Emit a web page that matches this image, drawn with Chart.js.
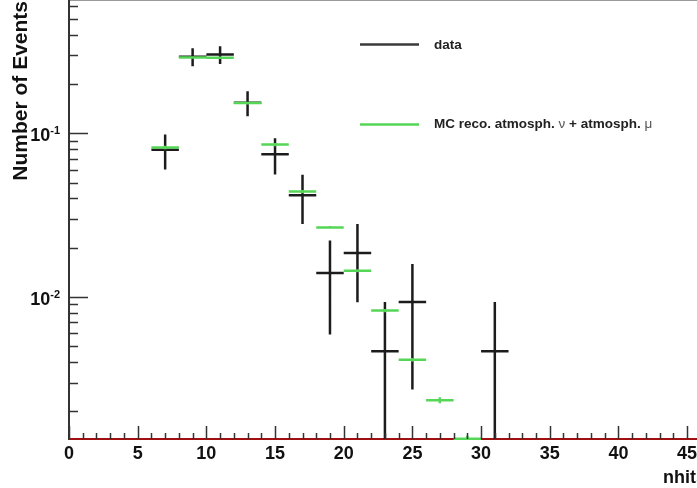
<!DOCTYPE html>
<html>
<head>
<meta charset="utf-8">
<script src="https://cdn.jsdelivr.net/npm/chart.js@4/dist/chart.umd.min.js"></script>
<style>
  html, body { margin: 0; padding: 0; background: #fff; overflow: hidden; }
  canvas { display: block; }
</style>
</head>
<body>
<canvas id="c" width="697" height="488"></canvas>
<script>
// ---- data ----
const binCenters = [7, 9, 11, 13, 15, 17, 19, 21, 23, 25, 27, 29, 31];
const binWidth = 2;
const dataValues = [0.0792, 0.2936, 0.3030, 0.1538, 0.0746, 0.0419, 0.0140, 0.0186, 0.00466, 0.00932, 0, 0, 0.00466];
const dataErrors = [0.0192, 0.0370, 0.0376, 0.0268, 0.0186, 0.0140, 0.0081, 0.0093, 0.00466, 0.0066, 0, 0, 0.00466];
const mcValues   = [0.0818, 0.290, 0.289, 0.153, 0.0853, 0.0441, 0.0266, 0.01445, 0.00826, 0.00414, 0.00234, 0.00136, 0];
const mcErrors   = [0.002, 0.005, 0.005, 0.003, 0.002, 0.001, 0.0005, 0.0003, 0.0002, 0.0001, 0.0001, 0.00006, 0];
const xTickLabels = [0, 5, 10, 15, 20, 25, 30, 35, 40, 45];
const yTickExponents = [-1, -2];
const xRange = [0, 45.72];
const yRange = [0.001357, 0.652];
const legendLabels = ['data', 'MC reco. atmosph. ', '\u03bd', ' + atmosph. ', '\u03bc'];
const xTitle = 'nhits';
const yTitle = 'Number of Events';

const BLACK = '#1c1c1c';
const GREEN = 'rgb(86,214,86)';
const RED = '#a01010';

function histSegments(values, errors) {
  const pts = [];
  binCenters.forEach((c, i) => {
    const v = values[i];
    if (!(v > 0)) return;
    pts.push({x: c - binWidth / 2, y: v}, {x: c + binWidth / 2, y: v}, {x: null, y: null});
    if (errors[i] > 0) {
      pts.push({x: c, y: Math.max(v - errors[i], yRange[0])}, {x: c, y: v + errors[i]}, {x: null, y: null});
    }
  });
  return pts;
}

const frame = {
  id: 'frame',
  beforeDatasetsDraw(chart) {
    const {ctx, chartArea: a} = chart;
    ctx.save();
    ctx.strokeStyle = '#9a9a9a';
    ctx.lineWidth = 1;
    ctx.beginPath(); ctx.moveTo(a.left, a.top + 0.5); ctx.lineTo(a.right, a.top + 0.5); ctx.stroke();
    ctx.strokeStyle = '#333';
    ctx.lineWidth = 2;
    ctx.beginPath(); ctx.moveTo(a.left, a.top); ctx.lineTo(a.left, a.bottom); ctx.lineTo(a.right, a.bottom); ctx.stroke();
    ctx.restore();
  },
  afterDatasetsDraw(chart) {
    const {ctx, chartArea: a, scales} = chart;
    const xs = scales.x, ys = scales.y;
    ctx.save();
    ctx.strokeStyle = '#333';
    ctx.lineWidth = 1.5;
    // x ticks
    for (let v = Math.ceil(xs.min); v <= xs.max; v++) {
      const px = Math.round(xs.getPixelForValue(v)) + 0.5;
      const len = v % 5 === 0 ? 13 : 6;
      ctx.beginPath(); ctx.moveTo(px, a.bottom); ctx.lineTo(px, a.bottom - len); ctx.stroke();
    }
    // y ticks
    for (let e = -4; e <= 0; e++) {
      for (let k = 1; k <= 9; k++) {
        const val = k * Math.pow(10, e);
        if (val < ys.min || val > ys.max) continue;
        const py = Math.round(ys.getPixelForValue(val)) + 0.5;
        const len = k === 1 ? 19 : 9;
        ctx.beginPath(); ctx.moveTo(a.left, py); ctx.lineTo(a.left + len, py); ctx.stroke();
      }
    }
    // x labels
    ctx.fillStyle = '#111';
    ctx.font = 'bold 18px "Liberation Sans", Arial, sans-serif';
    ctx.textAlign = 'center';
    ctx.textBaseline = 'alphabetic';
    xTickLabels.forEach(v => {
      ctx.fillText(String(v), xs.getPixelForValue(v), 459);
    });
    // y labels with superscript
    yTickExponents.forEach(e => {
      const py = ys.getPixelForValue(Math.pow(10, e));
      ctx.font = 'bold 11px "Liberation Sans", Arial, sans-serif';
      ctx.textAlign = 'right';
      const sup = String(e);
      const supW = ctx.measureText(sup).width;
      const right = 60;
      ctx.fillText(sup, right, py + 1);
      ctx.font = 'bold 18px "Liberation Sans", Arial, sans-serif';
      ctx.fillText('10', right - supW, py + 8);
    });
    // axis titles
    ctx.font = 'bold 18px "Liberation Sans", Arial, sans-serif';
    ctx.textAlign = 'right';
    ctx.fillText(xTitle, 706, 483);
    ctx.save();
    ctx.translate(27, a.top + 1);
    ctx.rotate(-Math.PI / 2);
    ctx.font = 'bold 21px "Liberation Sans", Arial, sans-serif';
    ctx.textAlign = 'right';
    ctx.fillText(yTitle, 0, 0);
    ctx.restore();
    // legend
    ctx.lineWidth = 2.5;
    ctx.strokeStyle = '#3a3a3a';
    ctx.beginPath(); ctx.moveTo(360, 44.5); ctx.lineTo(419, 44.5); ctx.stroke();
    ctx.strokeStyle = GREEN;
    ctx.beginPath(); ctx.moveTo(360, 124.5); ctx.lineTo(419, 124.5); ctx.stroke();
    ctx.textAlign = 'left';
    ctx.textBaseline = 'middle';
    ctx.fillStyle = '#222';
    ctx.font = 'bold 13.5px "Liberation Sans", Arial, sans-serif';
    ctx.fillText(legendLabels[0], 434, 45);
    let x = 434;
    for (let i = 1; i < legendLabels.length; i++) {
      const greek = (i === 2 || i === 4);
      ctx.font = (greek ? '' : 'bold ') + '13.5px "Liberation Sans", Arial, sans-serif';
      ctx.fillStyle = greek ? '#555' : '#222';
      ctx.fillText(legendLabels[i], x, 124);
      x += ctx.measureText(legendLabels[i]).width;
    }
    ctx.restore();
  }
};

const zeroLine = [{x: xRange[0], y: yRange[0]}, {x: xRange[1], y: yRange[0]}];

new Chart(document.getElementById('c'), {
  type: 'scatter',
  data: {
    datasets: [
      { label: 'MC', data: histSegments(mcValues, mcErrors), showLine: true, spanGaps: false,
        borderColor: GREEN, borderWidth: 2.5, pointRadius: 0, order: 0, borderCapStyle: 'butt',
        clip: {left: 0, top: 0, right: 0, bottom: 3} },
      { label: 'data', data: histSegments(dataValues, dataErrors), showLine: true, spanGaps: false,
        borderColor: BLACK, borderWidth: 2.5, pointRadius: 0, order: 1, borderCapStyle: 'butt',
        clip: {left: 0, top: 0, right: 0, bottom: 0} },
      { label: 'zero', data: zeroLine, showLine: true, borderColor: RED, borderWidth: 2,
        pointRadius: 0, order: 2, clip: {left: 0, top: 0, right: 0, bottom: 3} }
    ]
  },
  options: {
    responsive: false,
    animation: false,
    devicePixelRatio: 1,
    layout: { padding: { left: 69, top: 0, right: 0, bottom: 49 } },
    plugins: { legend: { display: false }, tooltip: { enabled: false } },
    scales: {
      x: { type: 'linear', display: false, min: xRange[0], max: xRange[1] },
      y: { type: 'logarithmic', display: false, min: yRange[0], max: yRange[1] }
    }
  },
  plugins: [frame]
});
</script>
</body>
</html>
